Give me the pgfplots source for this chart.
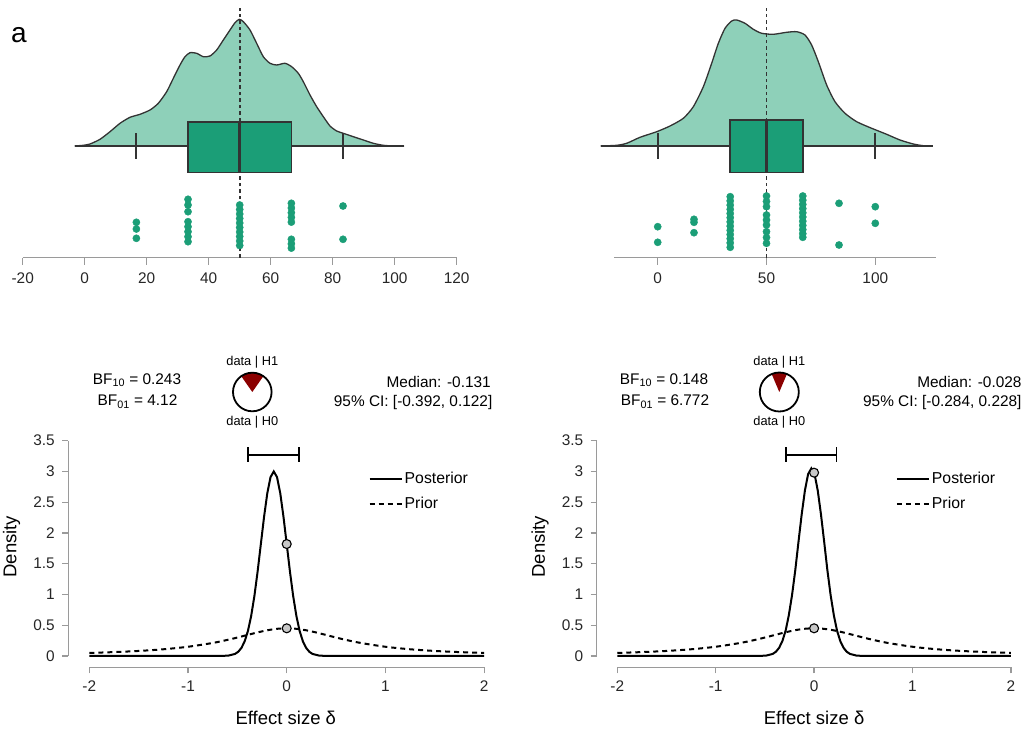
\documentclass[border=0pt]{standalone}
\usepackage{fontspec}
\setmainfont{Liberation Sans}
\usepackage{pgfplots}
\pgfplotsset{compat=1.18}
\definecolor{mint}{HTML}{8ED0B9}
\definecolor{boxc}{HTML}{1B9E77}
\definecolor{dotc}{HTML}{1B9E77}
\definecolor{outl}{HTML}{333333}
\definecolor{axg}{HTML}{9A9A9A}
\definecolor{pier}{HTML}{8B0000}
\definecolor{ptg}{HTML}{C8C8C8}
\newcommand{\tfont}{\fontsize{15.4}{18}\selectfont}
\newcommand{\sfont}{\fontsize{12.8}{15}\selectfont}
\newcommand{\lfont}{\fontsize{18.5}{22}\selectfont}
\pgfplotsset{
  rain/.style={anchor=south west, scale only axis, height=255pt, ymin=0, ymax=255, clip=false,
    axis lines*=left, y axis line style={draw=none}, ytick=\empty,
    x axis line style={axg, line width=1.3pt, -},
    tick align=outside, major tick length=7pt, xtick style={axg, line width=1.3pt},
    xticklabel style={font=\tfont, text=black!85, yshift=-4.5pt},
    /pgf/number format/assume math mode=true},
  bayes/.style={anchor=south west, scale only axis, height=226.6pt, xmax=2, ymin=-0.184, ymax=3.5,
    clip=false, axis lines*=left, axis line style={draw=none},
    xtick={-2,-1,0,1,2}, ytick={0,0.5,1,1.5,2,2.5,3,3.5},
    tick align=outside, major tick length=6pt, tick style={axg, line width=1.2pt},
    xticklabel style={font=\tfont, text=black!85, yshift=-4pt},
    yticklabel style={font=\tfont, text=black!85, xshift=-4pt},
    /pgf/number format/assume math mode=true,
    legend style={draw=none, fill=none, font=\fontsize{15.8}{18}\selectfont, inner sep=0pt,
      row sep=8pt, anchor=north west},
    legend cell align=left,
    legend image code/.code={\draw[##1] (0pt,0pt) -- (32pt,0pt);}},
  pts/.style={only marks, mark=*, mark size=3.6pt, mark options={draw=dotc, fill=dotc}, forget plot},
}
\begin{document}
\begin{tikzpicture}[x=1pt,y=1pt]
\path[use as bounding box] (0,0) rectangle (1026,729);
\node[anchor=base west, inner sep=0pt, font=\fontsize{28}{30}\selectfont] at (11,686.3) {a};

% ---------- top left raincloud ----------
\begin{axis}[rain, at={(22.7pt,471.3pt)}, width=434pt, xmin=-20, xmax=120,
  xtick={-20,0,20,40,60,80,100,120}]
\addplot[fill=mint, draw=outl, line width=1.3pt, smooth, tension=0.4] coordinates {
(-3.24,111.7) (-0.44,112.4) (1.71,113.7) (4.94,118.4) (8.16,126.0) (11.39,134.4) (14.61,140.4)
(17.84,143.4) (21.06,147.7) (23.75,154.4) (26.44,166.0) (28.59,179.4) (30.74,192.7) (32.35,201.0)
(33.97,205.0) (36.12,204.4) (38.27,201.0) (40.42,201.7) (42.57,207.7) (44.72,217.7) (46.87,227.7)
(48.48,235.0) (49.88,238.4) (51.17,236.0) (53.32,227.7) (55.47,214.4) (57.62,201.0) (59.77,194.4)
(61.93,192.7) (64.61,194.4) (66.76,191.0) (68.91,184.4) (70.52,176.0) (72.68,162.7) (74.83,151.0)
(76.98,141.0) (79.13,131.7) (81.28,126.7) (83.43,124.4) (86.66,121.0) (89.88,117.7) (93.11,114.4)
(96.33,112.4) (99.56,111.7) (103.0,111.7)};
\addplot[outl, line width=1.3pt] coordinates {(-3.24,111.7) (103.0,111.7)};
\addplot[fill=boxc, draw=outl, line width=1.6pt, line join=miter, line cap=rect] coordinates {
(33.33,85) (66.67,85) (66.67,135.7) (33.33,135.7) (33.33,85)};
\addplot[outl, line width=2.5pt] coordinates {(50,85) (50,135.7)};
\addplot[outl, line width=1.8pt] coordinates {(16.67,99) (16.67,124.7)};
\addplot[outl, line width=1.8pt] coordinates {(83.33,99) (83.33,124.7)};
\addplot[pts] coordinates {
(16.67,35.4) (16.67,28.7) (16.67,19.4)
(33.33,58.4) (33.33,52.7) (33.33,46) (33.33,36) (33.33,31) (33.33,26) (33.33,21) (33.33,16)
(50,52.7) (50,48.2) (50,43.7) (50,39.2) (50,34.7) (50,30.2) (50,25.7) (50,21.2) (50,16.7) (50,12.2)
(66.67,54.4) (66.67,49.7) (66.67,45) (66.67,40.3) (66.67,35.6) (66.67,18.4) (66.67,13.9) (66.67,9.6)
(83.33,51.7) (83.33,18.4)};
\addplot[outl, line width=1.6pt, dash pattern=on 3.5pt off 3pt] coordinates {(50,0) (50,250)};
\end{axis}

% ---------- top right raincloud ----------
\begin{axis}[rain, at={(614.2pt,471.3pt)}, width=322pt, xmin=-20, xmax=128,
  xtick={0,50,100}]
\addplot[fill=mint, draw=outl, line width=1.3pt, smooth, tension=0.4] coordinates {
(-26.2,111.7) (-18.86,112.4) (-14.26,114.4) (-8.13,120.4) (-0.47,126) (5.65,131.7) (11.78,139.4)
(16.37,151) (20.97,171) (24.8,194.4) (27.86,214.4) (30.93,229.4) (33.99,236.7) (36.29,237.7)
(40.12,234.4) (43.95,228.4) (47.78,224.4) (53.14,223.4) (59.27,225.4) (63.86,226) (67.69,222.7)
(70.75,212.7) (73.82,196) (77.65,172.7) (81.48,156) (86.08,144.4) (91.44,136) (98.34,129.4)
(105.22,123.4) (111.35,117.7) (117.48,113.7) (122.07,112) (126.37,111.7)};
\addplot[outl, line width=1.3pt] coordinates {(-26.2,111.7) (126.37,111.7)};
\addplot[fill=boxc, draw=outl, line width=1.6pt, line join=miter, line cap=rect] coordinates {
(33.33,85) (66.67,85) (66.67,137.7) (33.33,137.7) (33.33,85)};
\addplot[outl, line width=2.5pt] coordinates {(50,85) (50,137.7)};
\addplot[outl, line width=1.8pt] coordinates {(0,99) (0,124.4)};
\addplot[outl, line width=1.8pt] coordinates {(100,99) (100,124.4)};
\addplot[pts] coordinates {
(0,31) (0,15.4)
(16.67,38.4) (16.67,35.4) (16.67,25)
(33.33,61) (33.33,56.8) (33.33,52.6) (33.33,48.4) (33.33,44.2) (33.33,40) (33.33,35.8)
(33.33,31.6) (33.33,27.4) (33.33,23.2) (33.33,19) (33.33,14.8) (33.33,10.4)
(50,61.7) (50,56.3) (50,51) (50,42.7) (50,37.7) (50,32.7) (50,26) (50,20.2) (50,14.4)
(66.67,61.7) (66.67,57.5) (66.67,53.3) (66.67,49.1) (66.67,44.9) (66.67,40.7) (66.67,36.5)
(66.67,32.3) (66.67,28.1) (66.67,24) (66.67,20.4)
(83.33,54.4) (83.33,12.7)
(100,51) (100,34.4)};
\addplot[outl, line width=1.6pt, dash pattern=on 3.5pt off 3pt] coordinates {(50,0) (50,250)};
\end{axis}

% ---------- bottom left ----------
\begin{axis}[bayes, at={(68.3pt,61.7pt)}, width=415.8pt, xmin=-2.213,
  legend style={at={(axis description cs:0.722,0.87)}}]
\draw[axg, line width=1.2pt] (axis cs:-2,-0.184) -- (axis cs:2,-0.184);
\draw[axg, line width=1.2pt] (axis cs:-2.213,0) -- (axis cs:-2.213,3.5);
\addplot[black, line width=2pt] coordinates {
(-2,0) (-0.8,0) (-0.655,0.001) (-0.5895,0.007) (-0.524,0.033) (-0.4913,0.068) (-0.4585,0.132)
(-0.4258,0.239) (-0.393,0.406) (-0.3603,0.649) (-0.3275,0.974) (-0.2948,1.373) (-0.262,1.820)
(-0.2293,2.264) (-0.1965,2.648) (-0.1638,2.908) (-0.131,3.0) (-0.0983,2.908) (-0.0655,2.648)
(-0.0328,2.264) (0,1.820) (0.0328,1.373) (0.0655,0.974) (0.0983,0.649) (0.131,0.406)
(0.1638,0.239) (0.1965,0.132) (0.2293,0.068) (0.262,0.033) (0.3275,0.007) (0.393,0.001)
(0.55,0) (2,0)};
\addlegendentry{Posterior}
\addplot[black, line width=2pt, dash pattern=on 5pt off 4pt, smooth] coordinates {
(-2,0.050) (-1.75,0.0632) (-1.5,0.0819) (-1.25,0.1091) (-1,0.1501) (-0.75,0.2119) (-0.6,0.2617)
(-0.5,0.3001) (-0.4,0.3411) (-0.3,0.3815) (-0.2,0.4169) (-0.1,0.4414) (0,0.4502) (0.1,0.4414)
(0.2,0.4169) (0.3,0.3815) (0.4,0.3411) (0.5,0.3001) (0.6,0.2617) (0.75,0.2119) (1,0.1501)
(1.25,0.1091) (1.5,0.0819) (1.75,0.0632) (2,0.050)};
\addlegendentry{Prior}
\addplot[black, line width=1.8pt, mark=|, mark size=7.5pt, mark options={solid, line width=1.8pt}, forget plot]
  coordinates {(-0.392,3.27) (0.122,3.27)};
\addplot[only marks, mark=*, mark size=4.5pt, mark options={fill=ptg, draw=black, line width=1.1pt}, forget plot]
  coordinates {(0,1.82) (0,0.45)};
\end{axis}

% ---------- bottom right ----------
\begin{axis}[bayes, at={(596.7pt,61.7pt)}, width=414.2pt, xmin=-2.209,
  legend style={at={(axis description cs:0.722,0.87)}}]
\draw[axg, line width=1.2pt] (axis cs:-2,-0.184) -- (axis cs:2,-0.184);
\draw[axg, line width=1.2pt] (axis cs:-2.209,0) -- (axis cs:-2.209,3.5);
\addplot[black, line width=2pt] coordinates {
(-2,0) (-0.7,0) (-0.550,0.001) (-0.485,0.007) (-0.420,0.034) (-0.387,0.070) (-0.355,0.134)
(-0.322,0.243) (-0.289,0.413) (-0.257,0.660) (-0.224,0.990) (-0.191,1.396) (-0.159,1.850)
(-0.126,2.302) (-0.093,2.692) (-0.061,2.956) (-0.028,3.05) (0.005,2.956) (0.037,2.692)
(0.070,2.302) (0.103,1.850) (0.135,1.396) (0.168,0.990) (0.201,0.660) (0.233,0.413)
(0.266,0.243) (0.299,0.134) (0.331,0.070) (0.364,0.034) (0.429,0.007) (0.494,0.001)
(0.65,0) (2,0)};
\addlegendentry{Posterior}
\addplot[black, line width=2pt, dash pattern=on 5pt off 4pt, smooth] coordinates {
(-2,0.050) (-1.75,0.0632) (-1.5,0.0819) (-1.25,0.1091) (-1,0.1501) (-0.75,0.2119) (-0.6,0.2617)
(-0.5,0.3001) (-0.4,0.3411) (-0.3,0.3815) (-0.2,0.4169) (-0.1,0.4414) (0,0.4502) (0.1,0.4414)
(0.2,0.4169) (0.3,0.3815) (0.4,0.3411) (0.5,0.3001) (0.6,0.2617) (0.75,0.2119) (1,0.1501)
(1.25,0.1091) (1.5,0.0819) (1.75,0.0632) (2,0.050)};
\addlegendentry{Prior}
\addplot[black, line width=1.8pt, mark=|, mark size=7.5pt, mark options={solid, line width=1.8pt}, forget plot]
  coordinates {(-0.284,3.27) (0.228,3.27)};
\addplot[only marks, mark=*, mark size=4.5pt, mark options={fill=ptg, draw=black, line width=1.1pt}, forget plot]
  coordinates {(0,2.98) (0,0.45)};
\end{axis}

% axis titles
\node[font=\lfont] at (285.8,11) {Effect size δ};
\node[font=\lfont] at (814.1,11) {Effect size δ};
\node[font=\lfont, rotate=90] at (11.7,182.3) {Density};
\node[font=\lfont, rotate=90] at (540,182.3) {Density};

% annotations left
\node[font=\tfont, inner sep=0pt] at (137,349) {BF\textsubscript{10} = 0.243};
\node[font=\tfont, inner sep=0pt] at (137.5,327.3) {BF\textsubscript{01} = 4.12};
\node[font=\tfont, inner sep=0pt, anchor=east] at (491,347.3) {Median: -0.131};
\node[font=\tfont, inner sep=0pt, anchor=east] at (492.5,326.3) {95\% CI: [-0.392, 0.122]};
\node[font=\sfont, inner sep=0pt] at (252.3,366.7) {data | H1};
\node[font=\sfont, inner sep=0pt] at (252.3,306.7) {data | H0};
\fill[pier] (252.3,337) -- ++(55:19.3) arc[start angle=55, end angle=125, radius=19.3] -- cycle;
\draw[black, line width=1.8pt] (252.3,337) circle[radius=19.3];

% annotations right
\node[font=\tfont, inner sep=0pt] at (664,349) {BF\textsubscript{10} = 0.148};
\node[font=\tfont, inner sep=0pt] at (665,327.3) {BF\textsubscript{01} = 6.772};
\node[font=\tfont, inner sep=0pt, anchor=east] at (1021.7,347.3) {Median: -0.028};
\node[font=\tfont, inner sep=0pt, anchor=east] at (1021.7,326.3) {95\% CI: [-0.284, 0.228]};
\node[font=\sfont, inner sep=0pt] at (779.3,366.7) {data | H1};
\node[font=\sfont, inner sep=0pt] at (779.3,306.7) {data | H0};
\fill[pier] (779.3,337) -- ++(67:19.5) arc[start angle=67, end angle=113, radius=19.5] -- cycle;
\draw[black, line width=1.8pt] (779.3,337) circle[radius=19.5];
\end{tikzpicture}
\end{document}
